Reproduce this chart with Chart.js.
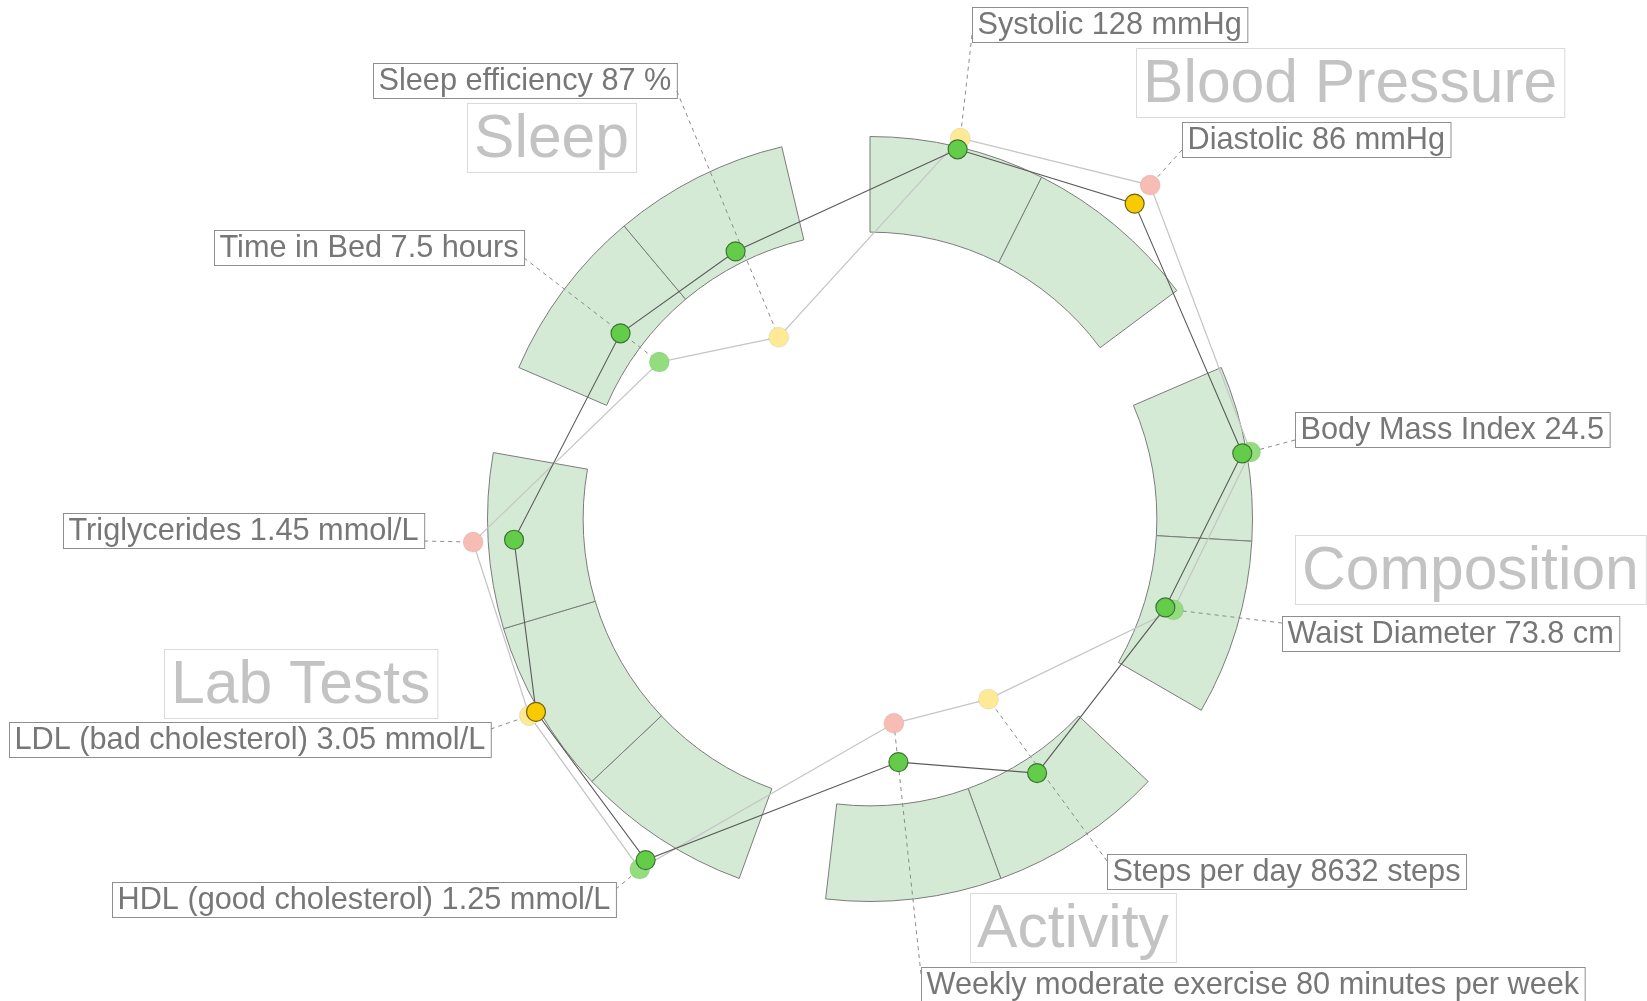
<!DOCTYPE html>
<html>
<head>
<meta charset="utf-8">
<title>Health ring</title>
<script src="https://cdn.jsdelivr.net/npm/chart.js@4.4.1/dist/chart.umd.min.js"></script>
<style>
    html, body { margin: 0; padding: 0; background: #fff; overflow: hidden; }
    #wrap { position: relative; width: 1647px; height: 1001px; }
    #wrap canvas { position: absolute; left: 0; top: 0; }
</style>
</head>
<body>
<div id="wrap">
    <canvas id="bands" width="1647" height="1001"></canvas>
    <canvas id="marks" width="1647" height="1001"></canvas>
</div>
<script>
// Groups, clockwise from 12 o'clock
const groupNames = ['Blood Pressure', 'Composition', 'Activity', 'Lab Tests', 'Sleep'];
const groupSizes = [2, 2, 2, 3, 2];

// Metrics in ring order
const metricNames = ['Systolic', 'Diastolic', 'Body Mass Index', 'Waist Diameter', 'Steps per day',
    'Weekly moderate exercise', 'HDL (good cholesterol)', 'LDL (bad cholesterol)', 'Triglycerides',
    'Time in Bed', 'Sleep efficiency'];
const metricValues = ['128', '86', '24.5', '73.8', '8632', '80', '1.25', '3.05', '1.45', '7.5', '87'];
const metricUnits = ['mmHg', 'mmHg', '', 'cm', 'steps', 'minutes per week', 'mmol/L', 'mmol/L', 'mmol/L', 'hours', '%'];

// Radial score (100 = outer edge of the healthy band, 75 = inner edge)
const currentScore = [99.2, 107.5, 98.7, 80.5, 79.4, 63.9, 106.6, 100.7, 93.1, 81.2, 78.2];
const previousScore = [102.2, 113.8, 100.9, 82.7, 56.3, 53.7, 109.4, 102.7, 103.8, 68.6, 53.1];
const currentStatus = ['good', 'fair', 'good', 'good', 'good', 'good', 'good', 'fair', 'good', 'good', 'good'];
const previousStatus = ['fair', 'poor', 'good', 'good', 'fair', 'poor', 'good', 'fair', 'poor', 'good', 'fair'];

const GAP = 0.5;       // gap between groups, in metric widths
const BAND_INNER = 75; // cutout %

// ---- layout (pixels) ----
const W = 1647, H = 1001;
const RING = { cx: 870, cy: 519, r: 383 };
const PAD = { left: RING.cx - RING.r, right: W - RING.cx - RING.r, top: RING.cy - RING.r, bottom: H - RING.cy - RING.r };
const EDGE = 20; // padding of the marks chart (covers point overflow)
// top-left corners of the label boxes, same order as metricNames
const labelBoxes = [[972, 7], [1182, 122], [1295, 412], [1282, 616], [1107, 854], [921, 967],
    [112, 882], [9, 722], [63, 513], [214, 230], [373, 63]];
const titleBoxes = [[1136, 48], [1295, 535], [970, 893], [164, 649], [467, 103]];

const FONT = '"Liberation Sans", Arial, Helvetica, sans-serif';
const fillColor = { good: '#63cc48', fair: '#f8ca00', poor: '#f07060' };
const edgeColor = { good: '#3f7434', fair: '#6e5e14', poor: '#8a3d33' };
const fadedColor = { good: '#93dd7f', fair: '#fde996', poor: '#f7bdb4' };

document.addEventListener('DOMContentLoaded', () => {
    renderBands();
    renderMarks();
});

/**
 * Angle (degrees, clockwise from north) of each metric's centre
 */
function metricAngles() {
    const total = metricNames.length + groupNames.length * GAP;
    const unit = 360 / total;
    const out = [];
    let pos = 0;
    groupSizes.forEach(n => {
        for (let i = 0; i < n; i++) {
            out.push((pos + 0.5) * unit);
            pos += 1;
        }
        pos += GAP;
    });
    return out;
}

function renderBands() {
    const data = [], bg = [], bw = [];
    groupSizes.forEach(n => {
        for (let i = 0; i < n; i++) {
            data.push(1);
            bg.push('#d4ead5');
            bw.push(1);
        }
        data.push(GAP);
        bg.push('rgba(0,0,0,0)');
        bw.push(0);
    });

    new Chart(document.getElementById('bands'), {
        type: 'doughnut',
        data: {
            labels: data.map((_, i) => 'seg' + i),
            datasets: [{
                data: data,
                backgroundColor: bg,
                borderColor: '#7b7b7b',
                borderWidth: bw
            }]
        },
        options: {
            responsive: false,
            animation: false,
            events: [],
            cutout: BAND_INNER + '%',
            layout: { padding: PAD },
            plugins: { legend: { display: false }, tooltip: { enabled: false } }
        }
    });
}

function polarPoints(scores) {
    const angles = metricAngles();
    return scores.map((s, i) => {
        const a = angles[i] * Math.PI / 180;
        return { x: s * Math.sin(a), y: s * Math.cos(a) };
    });
}

function boxAnchor(b, tx, ty) {
    const x = Math.min(Math.max(tx, b.x), b.x + b.w);
    let y;
    if (tx < b.x || tx > b.x + b.w) {
        y = Math.min(Math.max(ty, b.y + 7), b.y + b.h - 7);
    } else {
        y = ty < b.y ? b.y : b.y + b.h;
    }
    return { x, y };
}

// Labels, titles and leader lines drawn under the points
const labelPlugin = {
    id: 'ringLabels',
    beforeDatasetsDraw(chart) {
        const ctx = chart.ctx;
        const prevMeta = chart.getDatasetMeta(1);
        ctx.save();

        // group titles
        ctx.font = '60.6px ' + FONT;
        ctx.textBaseline = 'middle';
        groupNames.forEach((g, i) => {
            const w = ctx.measureText(g).width + 14;
            const [x, y] = titleBoxes[i];
            ctx.strokeStyle = '#dadada';
            ctx.lineWidth = 1;
            ctx.strokeRect(x + 0.5, y + 0.5, w, 69);
            ctx.fillStyle = '#c3c3c3';
            ctx.fillText(g, x + 7, y + 37);
        });

        // metric labels + dashed leaders to the previous reading
        ctx.font = '30.7px ' + FONT;
        metricNames.forEach((m, i) => {
            const text = [m, metricValues[i], metricUnits[i]].filter(Boolean).join(' ');
            const [x, y] = labelBoxes[i];
            const b = { x: x, y: y, w: ctx.measureText(text).width + 11, h: 35 };
            const pt = prevMeta.data[i];
            const an = boxAnchor(b, pt.x, pt.y);

            ctx.setLineDash([4, 4]);
            ctx.strokeStyle = '#8a8a8a';
            ctx.lineWidth = 1;
            ctx.beginPath();
            ctx.moveTo(an.x, an.y);
            ctx.lineTo(pt.x, pt.y);
            ctx.stroke();
            ctx.setLineDash([]);

            ctx.strokeStyle = '#8e8e8e';
            ctx.strokeRect(b.x + 0.5, b.y + 0.5, b.w, b.h);
            ctx.fillStyle = '#777777';
            ctx.fillText(text, b.x + 5.5, b.y + b.h / 2 + 1);
        });
        ctx.restore();
    }
};

function renderMarks() {
    const cur = polarPoints(currentScore);
    const prev = polarPoints(previousScore);
    // chart area = canvas minus EDGE on each side, in ring units (100 = outer radius)
    const k = RING.r / 100;

    new Chart(document.getElementById('marks'), {
        type: 'scatter',
        data: {
            datasets: [
                {
                    // current readings (top)
                    data: cur,
                    pointRadius: 9.5,
                    pointBorderWidth: 1.2,
                    pointBackgroundColor: currentStatus.map(s => fillColor[s]),
                    pointBorderColor: currentStatus.map(s => edgeColor[s]),
                    showLine: false,
                    clip: false
                },
                {
                    // previous readings
                    data: prev,
                    pointRadius: 10,
                    pointBorderWidth: 1,
                    pointBackgroundColor: previousStatus.map(s => fadedColor[s]),
                    pointBorderColor: 'rgba(0,0,0,0.07)',
                    showLine: false,
                    clip: false
                },
                {
                    data: cur.concat([cur[0]]),
                    showLine: true,
                    borderColor: '#5a5a5a',
                    borderWidth: 1.1,
                    pointRadius: 0,
                    clip: false
                },
                {
                    data: prev.concat([prev[0]]),
                    showLine: true,
                    borderColor: '#c6c6c6',
                    borderWidth: 1.3,
                    pointRadius: 0,
                    clip: false
                }
            ]
        },
        options: {
            responsive: false,
            animation: false,
            events: [],
            layout: { padding: EDGE },
            scales: {
                x: { type: 'linear', min: -(RING.cx - EDGE) / k, max: (W - EDGE - RING.cx) / k, display: false },
                y: { type: 'linear', min: -(H - EDGE - RING.cy) / k, max: (RING.cy - EDGE) / k, display: false }
            },
            plugins: { legend: { display: false }, tooltip: { enabled: false } }
        },
        plugins: [labelPlugin]
    });
}
</script>
</body>
</html>
